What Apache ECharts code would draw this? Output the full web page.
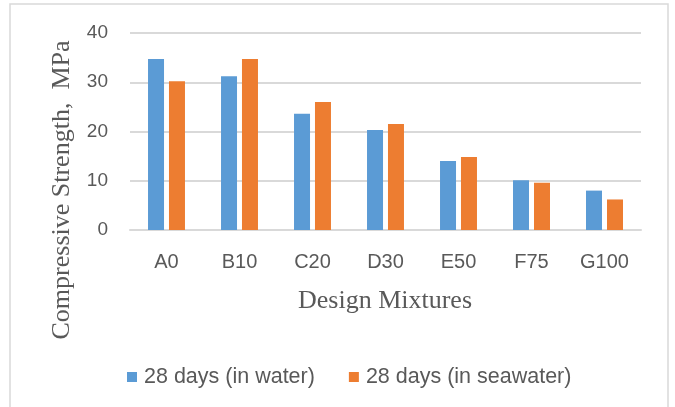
<!DOCTYPE html>
<html>
<head>
<meta charset="utf-8">
<script src="https://cdn.jsdelivr.net/npm/echarts@6/dist/echarts.min.js"></script>
<style>
html,body{margin:0;padding:0;background:#fff;}
#c{width:675px;height:407px;}
</style>
</head>
<body>
<div id="c"></div>
<script>
var categories = ['A0', 'B10', 'C20', 'D30', 'E50', 'F75', 'G100'];
var waterValues = [34.7, 31.2, 23.6, 20.3, 14.0, 10.1, 8.0];
var seawaterValues = [30.2, 34.7, 26.0, 21.5, 14.8, 9.6, 6.2];
var seriesNames = ['28 days (in water)', '28 days (in seawater)'];
var yTitle = 'Compressive Strength,  MPa';
var xTitle = 'Design Mixtures';

var chart = echarts.init(document.getElementById('c'));
var txt = '#595959';
chart.setOption({
  animation: false,
  backgroundColor: '#fff',
  grid: { left: 130, right: 34, top: 33, bottom: 177 },
  legend: {
    data: seriesNames,
    left: 122, top: 361,
    itemWidth: 10, itemHeight: 10, itemGap: 34,
    icon: 'rect',
    textStyle: { color: txt, fontSize: 21.5, fontFamily: 'Liberation Sans', padding: [0,0,0,2] }
  },
  xAxis: {
    type: 'category',
    data: categories,
    axisTick: { show: false },
    axisLine: { lineStyle: { color: '#d9d9d9', width: 2 } },
    axisLabel: { color: txt, fontSize: 20, fontFamily: 'Liberation Sans', margin: 22 }
  },
  yAxis: {
    type: 'value', min: 0, max: 40, interval: 10,
    axisLabel: { color: txt, fontSize: 19, fontFamily: 'Liberation Sans', margin: 22 },
    splitLine: { lineStyle: { color: '#d9d9d9', width: 2 } },
    axisLine: { show: false }, axisTick: { show: false }
  },
  series: [
    { name: seriesNames[0], type: 'bar', data: waterValues, barWidth: 16, barGap: '31%',
      itemStyle: { color: '#5B9BD5' } },
    { name: seriesNames[1], type: 'bar', data: seawaterValues, barWidth: 16,
      itemStyle: { color: '#ED7D31' } }
  ],
  graphic: [
    { type: 'rect', shape: { x: 10, y: 4, width: 658, height: 420 },
      style: { fill: 'none', stroke: '#d9d9d9', lineWidth: 1.5 }, silent: true },
    { type: 'text', x: 62, y: 190, rotation: Math.PI / 2,
      style: { text: yTitle, fill: txt, fontSize: 26, fontFamily: 'Liberation Serif',
               textAlign: 'center', textVerticalAlign: 'middle' } },
    { type: 'text', x: 385, y: 301,
      style: { text: xTitle, fill: txt, fontSize: 26, fontFamily: 'Liberation Serif',
               textAlign: 'center', textVerticalAlign: 'middle' } }
  ]
});
</script>
</body>
</html>
